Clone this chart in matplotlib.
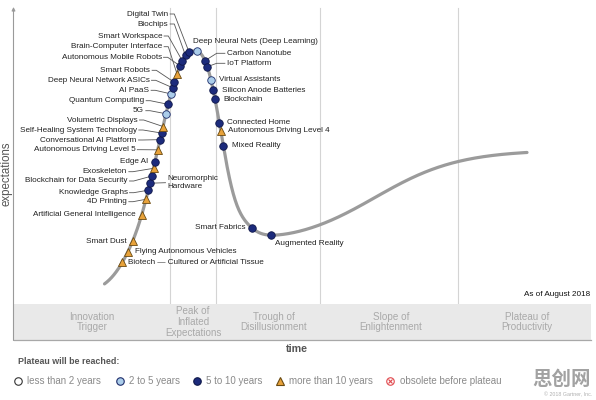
import numpy as np
import matplotlib
matplotlib.use('Agg')
import matplotlib.pyplot as plt
from matplotlib.patches import Rectangle

plt.rcParams['font.family'] = ['Liberation Sans', 'Noto Sans CJK SC', 'DejaVu Sans']

# ---------------- data ----------------
technologies = [
    "Biotech — Cultured or Artificial Tissue",
    "Flying Autonomous Vehicles",
    "Smart Dust",
    "Artificial General Intelligence",
    "4D Printing",
    "Knowledge Graphs",
    "Neuromorphic\nHardware",
    "Blockchain for Data Security",
    "Exoskeleton",
    "Edge AI",
    "Autonomous Driving Level 5",
    "Conversational AI Platform",
    "Self-Healing System Technology",
    "Volumetric Displays",
    "5G",
    "Quantum Computing",
    "AI PaaS",
    "Deep Neural Network ASICs",
    "Smart Robots",
    "Brain-Computer Interface",
    "Autonomous Mobile Robots",
    "Smart Workspace",
    "Biochips",
    "Digital Twin",
    "Deep Neural Nets (Deep Learning)",
    "Carbon Nanotube",
    "IoT Platform",
    "Virtual Assistants",
    "Silicon Anode Batteries",
    "Blockchain",
    "Connected Home",
    "Autonomous Driving Level 4",
    "Mixed Reality",
    "Smart Fabrics",
    "Augmented Reality",
]
# position along the time axis (same units as the chart's horizontal scale)
time_position = [122.3, 128.0, 132.5, 141.8, 146.0, 148.3, 150.0, 151.7, 153.5,
                 155.0, 157.7, 160.0, 161.5, 163.0, 166.0, 168.3, 171.0, 172.7,
                 174.3, 177.0, 180.0, 182.3, 185.5, 189.0, 196.7, 205.0, 207.3,
                 211.0, 213.3, 215.0, 219.3, 220.7, 223.3, 252.0, 271.0]
plateau_years = ['>10', '>10', '>10', '>10', '>10', '5-10', '5-10', '5-10', '>10',
                 '5-10', '>10', '5-10', '5-10', '>10', '2-5', '5-10', '2-5', '5-10',
                 '5-10', '>10', '5-10', '5-10', '5-10', '5-10', '2-5', '5-10', '5-10',
                 '2-5', '5-10', '5-10', '5-10', '>10', '5-10', '5-10', '5-10']

legend_keys = ['<2', '2-5', '5-10', '>10', 'obsolete']
legend_labels = ['less than 2 years', '2 to 5 years', '5 to 10 years',
                 'more than 10 years', 'obsolete before plateau']

phase_labels = ['Innovation\nTrigger', 'Peak of\nInflated\nExpectations',
                'Trough of\nDisillusionment', 'Slope of\nEnlightenment',
                'Plateau of\nProductivity']

# ---------------- hype curve model ----------------
MU_L, MU_R = 192.0, 194.0   # flat top of the peak
PEAK = 349.0
BASE_L, SIG_L = 95.0, 34.5
TAIL, TAIL_X, TAIL_W = 11.0, 134.0, 6.0
TROUGH, RISE = 155.0, 95.0
X0, S = 375.0, 42.0
A2, SIG1, SIG2, P1 = 25.0, 32.4, 50.0, 2.7
BUMP, BUMP_D, BUMP_W = 6.0, 50.0, 14.0


def slope(x):
    return RISE / (1.0 + np.exp(-(x - X0) / S))


def hype(x):
    x = np.asarray(x, float)
    left = (BASE_L + (PEAK - BASE_L) * np.exp(-0.5 * ((x - MU_L) / SIG_L) ** 2)
            + TAIL / (1.0 + np.exp((x - TAIL_X) / TAIL_W)))
    a1 = PEAK - TROUGH - slope(MU_R) - A2
    d = np.clip(x - MU_R, 0, None)
    right = (TROUGH + slope(x) + a1 * np.exp(-(d / SIG1) ** P1)
             + A2 * np.exp(-(d / SIG2) ** 2)
             + BUMP * np.exp(-((d - BUMP_D) / BUMP_W) ** 2))
    return np.where(x <= MU_L, left, np.where(x >= MU_R, right, PEAK))


# ---------------- styles / layout ----------------
STYLE = {
    '<2': dict(marker='o', ms=5.4, mfc='white', mec='#333333'),
    '2-5': dict(marker='o', ms=5.4, mfc='#abcdea', mec='#1d2c6a'),
    '5-10': dict(marker='o', ms=5.4, mfc='#1c2b7c', mec='#0e1648'),
    '>10': dict(marker='^', ms=6.0, mfc='#e8a23a', mec='#6a4a12'),
    'obsolete': dict(marker='o', ms=5.4, mfc='white', mec='#e0474c'),
}

FS = 5.9
TXT = '#222222'

# labels with leader lines: anchor x, y (pixels from top), alignment
leader_labels = {
    "Digital Twin": (168.3, 14.0, 'right'),
    "Biochips": (168.3, 24.0, 'right'),
    "Smart Workspace": (162.3, 36.0, 'right'),
    "Brain-Computer Interface": (162.3, 46.7, 'right'),
    "Autonomous Mobile Robots": (161.7, 57.3, 'right'),
    "Smart Robots": (150.3, 70.3, 'right'),
    "Deep Neural Network ASICs": (149.7, 80.3, 'right'),
    "AI PaaS": (149.3, 90.3, 'right'),
    "Quantum Computing": (144.3, 100.7, 'right'),
    "5G": (144.0, 110.7, 'right'),
    "Volumetric Displays": (137.7, 120.0, 'right'),
    "Self-Healing System Technology": (137.0, 130.0, 'right'),
    "Conversational AI Platform": (136.7, 140.0, 'right'),
    "Autonomous Driving Level 5": (135.5, 149.7, 'right'),
    "Exoskeleton": (127.0, 171.7, 'right'),
    "Blockchain for Data Security": (127.7, 181.0, 'right'),
    "Knowledge Graphs": (127.7, 192.7, 'right'),
    "4D Printing": (127.0, 201.7, 'right'),
    "Carbon Nanotube": (226.7, 53.3, 'left'),
    "IoT Platform": (226.7, 63.3, 'left'),
    "Neuromorphic\nHardware": (167.3, 182.7, 'left'),
}
# labels next to their marker: offset dx, dy (pixels, downwards), alignment
offset_labels = {
    "Deep Neural Nets (Deep Learning)": (-3.4, -9.8, 'left'),
    "Virtual Assistants": (8.0, -0.5, 'left'),
    "Silicon Anode Batteries": (8.7, 0.0, 'left'),
    "Blockchain": (8.3, 0.3, 'left'),
    "Connected Home": (7.7, 0.3, 'left'),
    "Autonomous Driving Level 4": (7.6, -0.6, 'left'),
    "Mixed Reality": (8.4, 0.0, 'left'),
    "Smart Fabrics": (-6.3, -0.3, 'right'),
    "Augmented Reality": (4.0, 8.6, 'left'),
    "Edge AI": (-7.0, 0.0, 'right'),
    "Artificial General Intelligence": (-6.0, 0.0, 'right'),
    "Smart Dust": (-6.3, 0.0, 'right'),
    "Flying Autonomous Vehicles": (7.3, 0.0, 'left'),
    "Biotech — Cultured or Artificial Tissue": (5.2, 0.0, 'left'),
}


def Y(py):
    return 400.0 - py


fig = plt.figure(figsize=(5.96, 4.0), dpi=100)
ax = fig.add_axes([0, 0, 1, 1])
ax.set_xlim(0, 596)
ax.set_ylim(0, 400)
ax.axis('off')

# phase separators
for xs in [170.0, 215.5, 319.5, 458.0]:
    ax.plot([xs, xs], [Y(304), Y(8)], color='#d4d4d4', lw=0.8, zorder=1)

# phase band
ax.add_patch(Rectangle((13.5, Y(340)), 591 - 13.5, 36, facecolor='#e9e9e9',
                       edgecolor='none', zorder=1))
for lab, cx in zip(phase_labels, [92, 193, 274, 391, 527]):
    ax.text(cx, Y(322), lab, ha='center', va='center', fontsize=7.1,
            color='#a9a9a9', linespacing=1.12, zorder=2)

# axes
ax.annotate('', xy=(13.5, Y(7)), xytext=(13.5, Y(340.5)),
            arrowprops=dict(arrowstyle='-|>', color='#9a9a9a', lw=0.8,
                            mutation_scale=5, shrinkA=0, shrinkB=0), zorder=3)
ax.plot([13.5, 591], [Y(340), Y(340)], color='#a8a8a8', lw=0.9, zorder=3)
ax.text(297, Y(349.5), 'time', ha='center', va='center', fontsize=7.7,
        fontweight='bold', color='#555555')
ax.text(6.5, Y(174), 'expectations', ha='center', va='center', rotation=90,
        fontsize=8.3, color='#555555')
ax.text(590, Y(294), 'As of August 2018', ha='right', va='center', fontsize=FS,
        color='#111111')

# curve
xs = np.linspace(104.5, 527, 900)
ax.plot(xs, hype(xs), color='#9b9b9b', lw=2.3, solid_capstyle='round', zorder=2)

# markers + labels
for name, t, cat in zip(technologies, time_position, plateau_years):
    mx, my = t, float(hype(t))
    ax.plot([mx], [my], linestyle='none', mew=0.6, zorder=5, **STYLE[cat])
    if name in leader_labels:
        lx, lpy, ha = leader_labels[name]
        ly = Y(lpy)
        ax.text(lx, ly, name, ha=ha, va='center', fontsize=FS, color=TXT,
                linespacing=1.15, zorder=6)
        if ha == 'right':
            pts = [(lx + 1.8, ly), (lx + 6.0, ly), (mx, my)]
        elif name.startswith('Neuromorphic'):
            pts = [(mx, my), (lx - 1.8, ly)]
        else:
            pts = [(mx, my), (lx - 10.0, ly), (lx - 1.8, ly)]
        ax.plot([p[0] for p in pts], [p[1] for p in pts], color='#555555',
                lw=0.6, zorder=4)
    else:
        dx, dpy, ha = offset_labels[name]
        ax.text(mx + dx, my - dpy, name, ha=ha, va='center', fontsize=FS,
                color=TXT, zorder=6)

# legend
ax.text(18, Y(362), 'Plateau will be reached:', ha='left', va='center',
        fontsize=6.4, fontweight='bold', color='#555555')
for key, lab, mxl, tx in zip(legend_keys, legend_labels,
                             [18, 120, 197, 280, 390], [26.7, 129, 206, 289, 399.7]):
    st = dict(STYLE[key])
    ax.plot([mxl], [Y(381)], linestyle='none', mew=0.8, **st)
    if key == 'obsolete':
        ax.plot([mxl], [Y(381)], linestyle='none', marker='x', ms=3.0,
                mec='#e0474c', mew=0.8)
    ax.text(tx, Y(381), lab, ha='left', va='center', fontsize=7.0,
            color='#8a8a8a')

# watermark / copyright
ax.text(562, Y(379), '思创网', ha='center', va='center', fontsize=14,
        fontweight='bold', color='#a2a2a2',
        family=['Noto Sans CJK SC', 'DejaVu Sans'])
ax.text(592, Y(394.5), '© 2018 Gartner, Inc.', ha='right', va='center',
        fontsize=3.8, color='#b0b0b0')

fig.savefig('out.png', dpi=100)
